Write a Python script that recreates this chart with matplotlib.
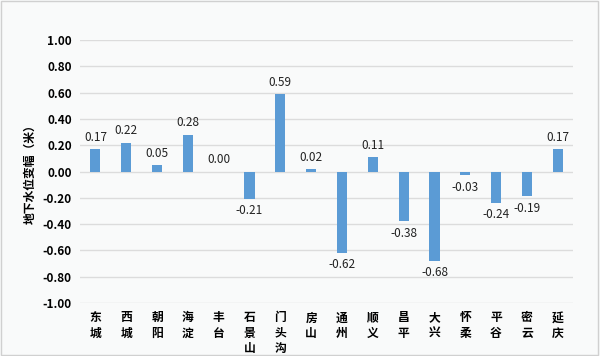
import matplotlib
matplotlib.use('Agg')
import matplotlib.pyplot as plt
import numpy as np

plt.rcParams['font.family'] = ['Noto Sans CJK SC', 'DejaVu Sans']

# 各区地下水位变幅
districts = ['东\n城', '西\n城', '朝\n阳', '海\n淀', '丰\n台', '石\n景\n山', '门\n头\n沟', '房\n山',
             '通\n州', '顺\n义', '昌\n平', '大\n兴', '怀\n柔', '平\n谷', '密\n云', '延\n庆']
changes = [0.17, 0.22, 0.05, 0.28, 0.00, -0.21, 0.59, 0.02,
           -0.62, 0.11, -0.38, -0.68, -0.03, -0.24, -0.19, 0.17]
yticks = [1.0, 0.8, 0.6, 0.4, 0.2, 0.0, -0.2, -0.4, -0.6, -0.8, -1.0]

fig = plt.figure(figsize=(6, 3.56), dpi=100, facecolor='#f9fafa')
ax = fig.add_axes([0.1333, 0.1489, 0.822, 0.7387])
ax.set_facecolor('#f9fafa')

# 外边框
fig.patches.append(plt.Rectangle((0.002, 0.003), 0.995, 0.994, transform=fig.transFigure,
                                 fill=False, edgecolor='#d0d0d0', linewidth=1))

x = np.arange(len(districts))
ax.bar(x, changes, width=0.33, color='#5b9bd5', zorder=3)

for xi, v in zip(x, changes):
    if v >= 0:
        ax.text(xi, v + 0.04, f'{v:.2f}', ha='center', va='bottom', fontsize=8.5, color='#222222')
    else:
        ax.text(xi, v - 0.04, f'{v:.2f}', ha='center', va='top', fontsize=8.5, color='#222222')

ax.set_ylim(-1.0, 1.0)
ax.set_xlim(-0.5, len(districts) - 0.5)
ax.set_yticks(yticks)
ax.set_yticklabels([f'{t:.2f}' for t in yticks], fontsize=8.5, fontweight='bold')
ax.set_xticks(x)
ax.set_xticklabels(districts, fontsize=8.5, fontweight='bold', linespacing=1.25, va='top')
ax.tick_params(axis='both', length=0, pad=6)
ax.grid(axis='y', color='#dcdcdc', linewidth=1, zorder=0)
for s in ax.spines.values():
    s.set_visible(False)

ax.set_ylabel('地下水位变幅（米）', fontsize=8.5, fontweight='bold', labelpad=4)

plt.savefig('out.png', dpi=100, facecolor=fig.get_facecolor())
